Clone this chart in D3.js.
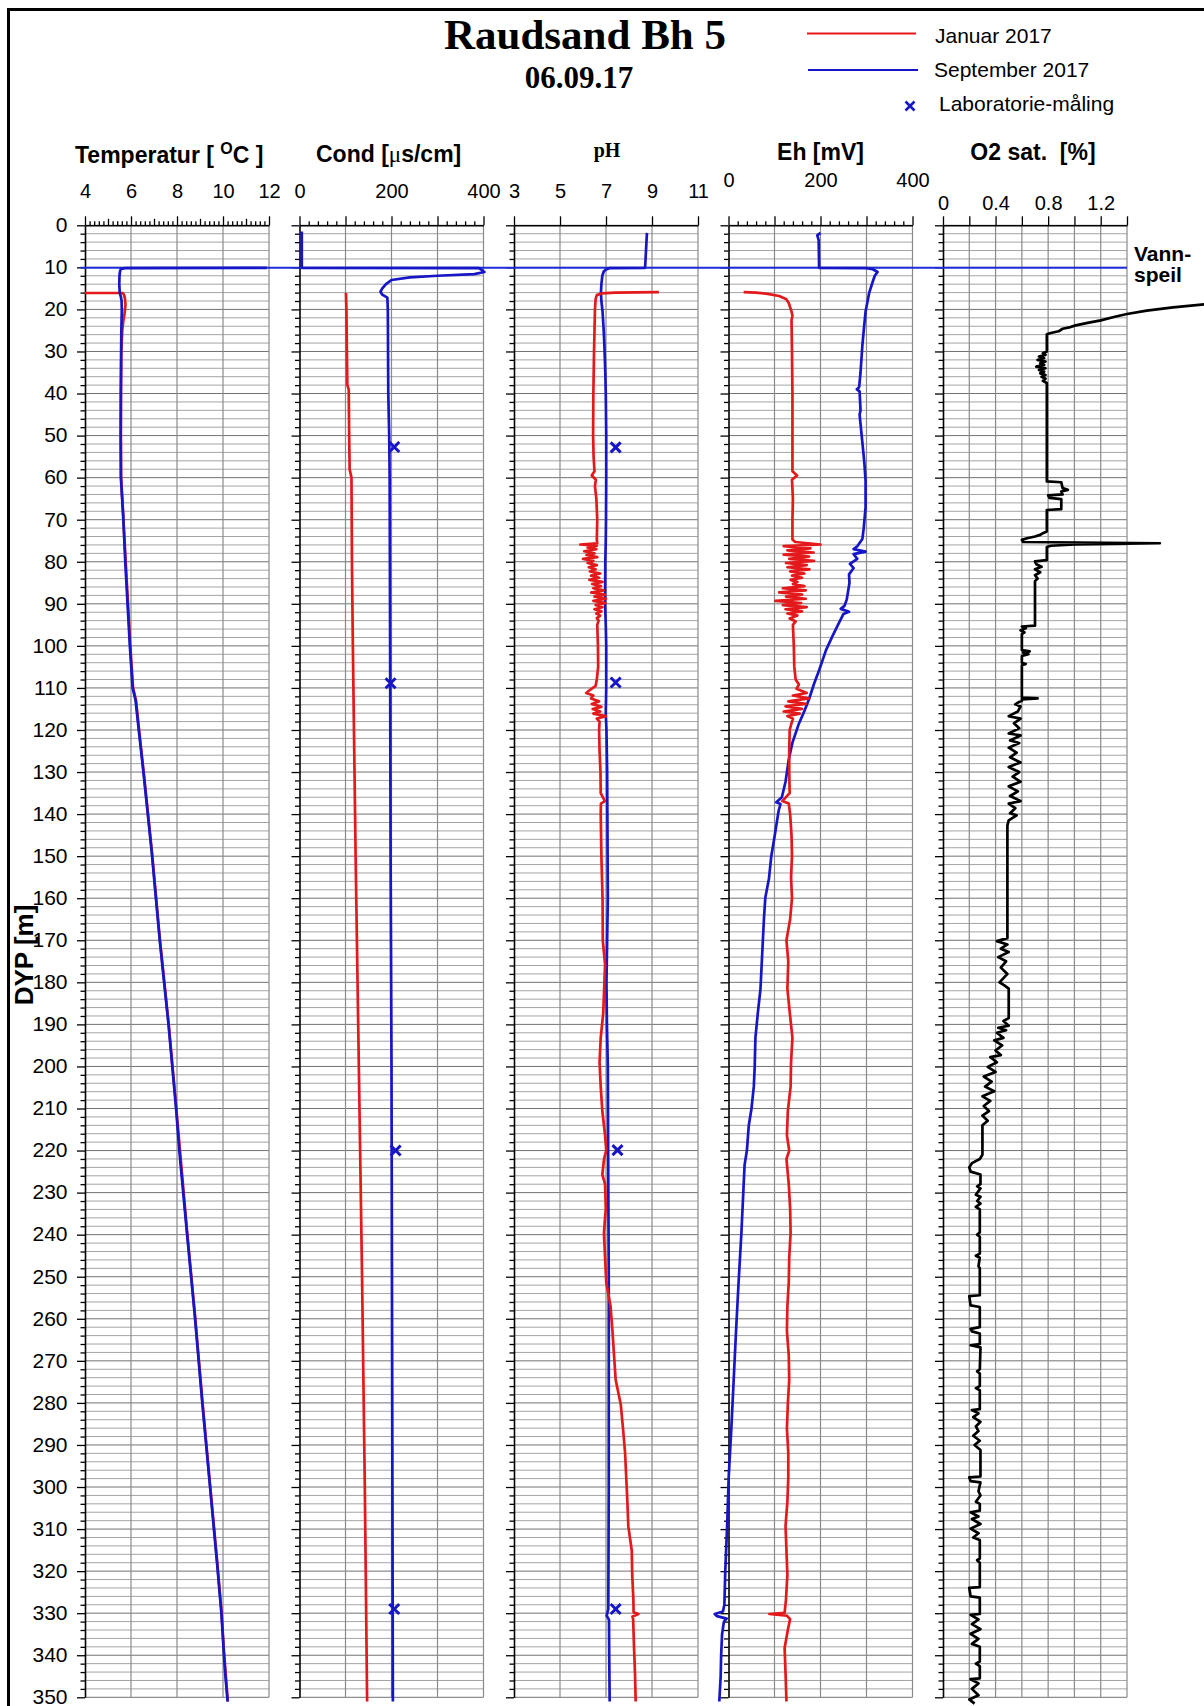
<!DOCTYPE html>
<html>
<head>
<meta charset="utf-8">
<script src="https://cdn.jsdelivr.net/npm/d3@7"></script>
<style>
  body { margin: 0; background: #fff; }
  svg { display: block; }
</style>
</head>
<body>
<svg id="chart" width="1204" height="1706"></svg>
<script>
// ---------- Borehole log data: [depth (m), value] ----------
const waterLevel = 10.1;

const tempJan = [
  [16.1, 4.0], [16.1, 5.64], [16.6, 5.70], [17.5, 5.74], [19, 5.76], [21, 5.72], [23, 5.66],
  [25, 5.62], [30, 5.58], [40, 5.56], [50, 5.56], [60, 5.57], [70, 5.67], [80, 5.77],
  [90, 5.87], [100, 5.97], [110, 6.09], [113, 6.22], [120, 6.35], [131, 6.57], [149, 6.91],
  [170, 7.26], [190, 7.64], [210, 7.97], [240, 8.45], [259, 8.78], [280, 9.11], [299, 9.43],
  [318, 9.75], [330, 9.94], [339, 10.04], [351, 10.21]
];
const tempSep = [
  [10.12, 11.9], [10.18, 5.75], [10.4, 5.56], [11, 5.52], [12, 5.50], [14, 5.49], [16, 5.51],
  [17, 5.56], [18, 5.59], [20, 5.60], [25, 5.58], [30, 5.57], [40, 5.56], [50, 5.55],
  [60, 5.56], [69, 5.66], [80, 5.75], [90, 5.85], [100, 5.95], [110, 6.07], [113, 6.20],
  [119.6, 6.33], [131, 6.56], [149, 6.90], [170, 7.25], [190, 7.63], [210, 7.96], [220, 8.10],
  [240, 8.44], [259, 8.77], [280, 9.10], [299, 9.42], [318, 9.74], [330, 9.93], [339, 10.03],
  [344.6, 10.10], [351, 10.20]
];

const condJan = [
  [16.1, 101], [20, 102], [30, 103], [38, 104], [39, 107], [50, 108], [58, 109], [60, 113],
  [80, 114], [100, 116], [150, 122], [200, 129], [250, 136], [300, 142], [351, 147]
];
const condSep = [
  [1.5, 5], [10.1, 5], [10.2, 390], [10.6, 396], [11.1, 402], [11.6, 380], [12.0, 300],
  [12.4, 240], [13.0, 200], [14.0, 188], [15.0, 180], [15.8, 176], [16.5, 180], [17.2, 191],
  [20, 192], [40, 193], [50, 195], [60, 196], [100, 197], [150, 198], [200, 200], [250, 201],
  [300, 202], [351, 203]
];
const condLab = [[52.7, 206], [108.9, 198], [220.0, 209], [329.0, 206]];

const phJan = [
  [15.9, 9.3], [16.0, 7.4], [16.2, 6.8], [16.6, 6.6], [17.5, 6.55], [20, 6.52], [25, 6.50],
  [30, 6.48], [40, 6.45], [50, 6.44], [55, 6.46], [58.5, 6.50], [59.5, 6.38], [60.5, 6.56],
  [62, 6.52], [65, 6.58], [70, 6.62], [74.7, 6.60], [75.6, 6.62], [75.9, 5.88], [76.2, 6.60],
  [76.6, 6.20], [77.0, 6.58], [77.5, 6.05], [78.0, 6.50], [78.4, 6.15], [78.9, 6.62],
  [79.3, 6.00], [79.8, 6.45], [80.3, 6.20], [80.8, 6.60], [81.3, 6.25], [81.8, 6.55],
  [82.3, 6.30], [82.8, 6.75], [83.3, 6.35], [83.8, 6.70], [84.3, 6.28], [84.8, 6.85],
  [85.3, 6.40], [85.8, 6.78], [86.3, 6.45], [86.8, 6.90], [87.3, 6.35], [87.8, 6.95],
  [88.3, 6.50], [88.8, 7.00], [89.3, 6.45], [89.8, 6.98], [90.3, 6.55], [90.8, 6.85],
  [91.3, 6.50], [91.8, 6.80], [92.3, 6.58], [92.8, 6.75], [93.4, 6.60], [94.0, 6.68],
  [95, 6.62], [100, 6.65], [105, 6.66], [108, 6.60], [109.5, 6.55], [110.5, 6.30],
  [111.2, 6.14], [111.8, 6.45], [112.5, 6.35], [113.2, 6.70], [113.8, 6.38], [114.5, 6.80],
  [115.0, 6.42], [115.6, 6.75], [116.1, 6.45], [116.7, 6.99], [117.3, 6.60], [118, 6.72],
  [120, 6.70], [125, 6.72], [130, 6.76], [135, 6.77], [136.9, 6.95], [137.5, 6.78],
  [140, 6.77], [150, 6.80], [160, 6.85], [170, 6.86], [175.8, 6.96], [181.5, 6.92],
  [187.3, 6.88], [193.2, 6.77], [199.0, 6.72], [204.8, 6.77], [210.6, 6.84], [216.4, 6.96],
  [219.9, 7.01], [222.2, 6.91], [225.7, 6.84], [228.0, 6.96], [233.8, 6.99], [239.6, 6.91],
  [245.5, 6.96], [251.3, 7.01], [257.1, 7.20], [262.9, 7.28], [268.7, 7.35], [274.5, 7.42],
  [280.3, 7.64], [286.1, 7.74], [291.9, 7.83], [297.7, 7.88], [303.5, 7.93], [309.3, 7.97],
  [315.1, 8.12], [320.9, 8.14], [326.7, 8.19], [329.8, 8.20], [330.2, 8.41], [330.8, 8.15],
  [331.4, 8.18], [338.3, 8.22], [344.2, 8.26], [351, 8.29]
];
const phSep = [
  [1.8, 8.78], [10.1, 8.70], [10.2, 7.15], [10.5, 7.00], [11, 6.90], [12, 6.84], [14, 6.80],
  [16, 6.78], [18, 6.80], [20.5, 6.85], [25, 6.90], [28.6, 6.93], [35, 6.97], [40, 6.99],
  [50, 7.01], [60, 7.01], [70, 7.00], [75, 6.99], [80, 6.97], [90, 6.96], [95, 6.99],
  [100, 7.01], [110, 7.01], [116, 6.99], [120, 7.02], [130, 7.05], [140, 7.06], [160, 7.08],
  [170, 7.05], [180, 7.02], [190, 7.04], [200, 7.08], [228, 7.10], [250, 7.12], [280, 7.12],
  [300, 7.12], [329, 7.10], [330.6, 7.03], [331.6, 7.13], [340, 7.14], [351, 7.16]
];
const phLab = [[52.8, 7.42], [108.7, 7.42], [219.9, 7.50], [329.0, 7.42]];

const ehJan = [
  [15.9, 33], [16.0, 60], [16.3, 85], [16.8, 110], [17.5, 125], [18.5, 131], [20.5, 137],
  [21.5, 139], [22.5, 137], [30, 138], [40, 139], [50, 139], [58.5, 139], [59.5, 149],
  [60.5, 138], [65, 140], [70, 139], [74.7, 139], [75.3, 145], [75.9, 200], [76.3, 120],
  [76.8, 178], [77.3, 128], [77.8, 185], [78.3, 120], [78.8, 175], [79.3, 132], [79.8, 186],
  [80.3, 125], [80.8, 170], [81.3, 128], [81.8, 176], [82.3, 134], [82.8, 165], [83.3, 138],
  [83.8, 160], [84.3, 135], [84.8, 150], [85.3, 140], [85.8, 165], [86.3, 118], [86.8, 168],
  [87.3, 110], [87.8, 160], [88.3, 125], [88.8, 168], [89.3, 102], [89.8, 158], [90.3, 118],
  [90.8, 170], [91.3, 124], [91.8, 160], [92.3, 128], [92.8, 150], [93.5, 133], [94.2, 146],
  [95, 140], [100, 142], [105, 143], [108, 146], [109.2, 153], [110.2, 148], [111.2, 170],
  [111.8, 140], [112.5, 175], [113.2, 130], [113.8, 168], [114.4, 124], [115, 160],
  [115.6, 120], [116.1, 155], [116.7, 128], [117.3, 140], [118.4, 137], [120, 133],
  [125, 132], [130, 132], [135, 133], [136.9, 117], [137.5, 131], [140, 134], [145, 137],
  [150, 138], [155, 136], [160, 138], [165, 134], [170, 126], [175, 130], [181.5, 128],
  [187, 133], [193.2, 139], [199, 136], [204.8, 135], [210.6, 129], [216.4, 127], [220, 132],
  [222, 126], [228, 131], [233.8, 134], [239.6, 135], [245.5, 132], [251.3, 131],
  [257.1, 128], [262.9, 127], [268.7, 131], [274.5, 132], [280.3, 129], [286.1, 127],
  [291.9, 130], [297.7, 130], [303.5, 128], [309.3, 124], [315.1, 126], [320.9, 128],
  [326.7, 125], [329.9, 122], [330.2, 89], [330.6, 127], [331.4, 134], [334, 129],
  [338.3, 122], [344.2, 124], [351, 126]
];
const ehSep = [
  [1.8, 200], [2.4, 193], [3.5, 196], [10.1, 197], [10.2, 300], [10.4, 313], [11.1, 324],
  [12, 318], [13.6, 313], [16, 306], [20.5, 298], [25, 294], [28.6, 291], [35, 287],
  [38.5, 284], [39.0, 279], [39.5, 285], [44, 287], [45, 285], [51.6, 291], [56, 295],
  [60.8, 298], [67, 298], [72, 294], [74.6, 291], [76.3, 280], [77.0, 272], [77.6, 298],
  [78.2, 272], [79.3, 280], [80.5, 264], [81.5, 272], [83, 262], [85, 263], [87, 260],
  [89, 257], [90.5, 252], [91.2, 244], [91.9, 262], [92.4, 250], [95, 238], [97.7, 226],
  [101, 212], [105.8, 197], [109, 186], [112.7, 175], [115.5, 165], [118.5, 153], [123, 139],
  [127, 131], [132.3, 124], [136, 116], [137.2, 104], [137.6, 113], [139.2, 109],
  [146.1, 99], [150, 93], [155.3, 88], [159.9, 80], [165, 77], [173.8, 73], [181.6, 69.5],
  [187, 64], [193.2, 58.5], [200, 57], [204.8, 55], [210, 50], [214.1, 44], [220, 40],
  [223.4, 35], [228, 33], [239.7, 28], [251.2, 22], [262.9, 16.4], [274.5, 11.3], [286, 6.2],
  [297.7, 0.4], [309.3, -3], [320, -7], [328, -9], [329.6, -12], [330.2, -30], [330.7, -25],
  [331.3, -4], [332, -10], [335, -14], [340, -16], [345, -17], [351, -20]
];

const o2Sep = [
  [18.6, 2.05], [19.5, 1.75], [20.3, 1.55], [21.1, 1.40], [21.8, 1.30], [22.6, 1.20],
  [23.2, 1.10], [23.8, 1.01], [24.2, 0.97], [24.6, 0.91], [25.2, 0.88], [25.6, 0.82],
  [25.9, 0.79], [30.0, 0.79], [30.4, 0.76], [30.8, 0.78], [31.2, 0.73], [31.6, 0.77],
  [32.0, 0.72], [32.4, 0.78], [32.8, 0.74], [33.2, 0.77], [33.6, 0.71], [34.0, 0.78],
  [34.4, 0.73], [34.8, 0.77], [35.2, 0.74], [35.6, 0.78], [36.0, 0.75], [36.5, 0.78],
  [37.0, 0.76], [37.5, 0.79], [60.9, 0.79], [61.1, 0.90], [62.5, 0.91], [62.9, 0.95],
  [63.3, 0.90], [64.0, 0.91], [64.2, 0.80], [64.8, 0.81], [65.1, 0.90], [67.5, 0.90],
  [67.7, 0.79], [72.8, 0.79], [73.2, 0.76], [73.6, 0.74], [74.0, 0.70], [74.4, 0.64],
  [74.8, 0.60], [75.3, 0.61], [75.6, 1.65], [75.9, 1.00], [76.2, 0.82], [76.5, 0.79],
  [79.6, 0.79], [79.9, 0.70], [80.6, 0.71], [81.2, 0.75], [81.8, 0.70], [82.5, 0.74],
  [83.2, 0.70], [84.0, 0.72], [84.6, 0.70], [95.2, 0.70], [95.4, 0.60], [95.8, 0.63],
  [96.3, 0.59], [96.8, 0.62], [97.2, 0.60], [101.0, 0.60], [101.3, 0.66], [101.6, 0.61],
  [102.0, 0.65], [102.4, 0.60], [104.0, 0.60], [104.3, 0.63], [104.6, 0.60], [112.3, 0.60],
  [112.5, 0.72], [112.7, 0.60], [113.1, 0.60], [113.3, 0.58], [113.9, 0.55], [114.4, 0.59],
  [115.6, 0.57], [116.7, 0.50], [117.3, 0.59], [118.4, 0.54], [119.6, 0.58], [120.8, 0.50],
  [121.3, 0.59], [122.5, 0.51], [123.1, 0.58], [124.2, 0.50], [125.4, 0.56], [126.5, 0.51],
  [127.7, 0.59], [128.8, 0.50], [130.0, 0.58], [131.1, 0.53], [132.3, 0.59], [133.4, 0.50],
  [134.6, 0.57], [135.7, 0.51], [136.9, 0.59], [137.5, 0.50], [138.6, 0.55], [139.8, 0.51],
  [140.3, 0.56], [141.5, 0.50], [142.7, 0.49], [169.5, 0.49], [170.2, 0.41], [171.0, 0.49],
  [172.0, 0.44], [172.8, 0.50], [174.0, 0.42], [175.0, 0.48], [176.5, 0.44], [178.0, 0.49],
  [180.0, 0.43], [180.8, 0.47], [181.5, 0.50], [188.5, 0.50], [189.2, 0.46], [190.3, 0.50],
  [190.8, 0.42], [191.4, 0.48], [192.0, 0.41], [193.2, 0.46], [193.8, 0.39], [195.0, 0.45],
  [196.2, 0.40], [197.3, 0.44], [197.8, 0.36], [199.0, 0.41], [200.1, 0.34], [201.3, 0.40],
  [202.4, 0.31], [203.6, 0.37], [204.8, 0.32], [205.9, 0.39], [207.1, 0.30], [208.2, 0.36],
  [209.4, 0.31], [210.6, 0.35], [211.7, 0.30], [212.9, 0.34], [214.0, 0.30], [221.0, 0.30],
  [222.0, 0.28], [223.0, 0.22], [224.0, 0.20], [225.0, 0.21], [225.7, 0.285], [228.0, 0.285],
  [228.5, 0.26], [229.0, 0.285], [230.5, 0.25], [231.0, 0.285], [232.0, 0.26], [232.6, 0.285],
  [233.4, 0.25], [234.0, 0.28], [239.5, 0.28], [240.0, 0.26], [240.5, 0.28], [244.5, 0.28],
  [245.0, 0.25], [245.5, 0.28], [247.5, 0.27], [248.0, 0.28], [254.4, 0.28], [254.6, 0.20],
  [256.8, 0.21], [257.2, 0.28], [262.0, 0.28], [262.4, 0.21], [263.0, 0.22], [263.5, 0.28],
  [266.0, 0.28], [266.3, 0.21], [266.8, 0.285], [272.0, 0.28], [272.5, 0.26], [273.0, 0.28],
  [276.0, 0.28], [276.5, 0.25], [277.0, 0.28], [281.5, 0.28], [281.7, 0.22], [282.5, 0.27],
  [283.4, 0.23], [284.5, 0.285], [285.6, 0.25], [286.7, 0.27], [287.8, 0.23], [289.0, 0.28],
  [290.0, 0.24], [291.2, 0.285], [297.5, 0.285], [297.7, 0.20], [298.6, 0.21], [298.9, 0.285],
  [301.0, 0.27], [302.0, 0.285], [303.5, 0.25], [304.0, 0.28], [305.6, 0.28], [306.0, 0.21],
  [307.0, 0.27], [307.6, 0.22], [308.8, 0.285], [309.9, 0.21], [311.0, 0.27], [312.0, 0.23],
  [312.6, 0.28], [317.0, 0.28], [317.4, 0.26], [318.0, 0.28], [323.8, 0.28], [324.0, 0.20],
  [326.0, 0.21], [326.3, 0.28], [330.2, 0.28], [330.4, 0.21], [331.5, 0.27], [332.6, 0.22],
  [333.8, 0.285], [334.9, 0.21], [336.1, 0.27], [337.3, 0.22], [338.0, 0.28], [341.5, 0.28],
  [342.0, 0.25], [342.6, 0.28], [345.5, 0.28], [345.7, 0.21], [346.7, 0.27], [348.0, 0.22],
  [349.5, 0.27], [350.5, 0.20], [351.5, 0.24]
];

// ---------- Axis ticks and labels ----------
const depthMajor = d3.range(0, 351, 10);
const depthMinor = d3.range(0, 351, 2);
const tempTicks = [4, 6, 8, 10, 12];
const condTicks = [0, 100, 200, 300, 400];
const condLabels = [0, 200, 400];
const phTicks = [3, 5, 7, 9, 11];
const ehTicks = [0, 100, 200, 300, 400];
const ehLabels = [0, 200, 400];
const o2Ticks = [0, 0.2, 0.4, 0.6, 0.8, 1.0, 1.2, 1.4];
const o2Labels = [0, 0.4, 0.8, 1.2];

const RED = "#e3191b";
const BLUE = "#1616c8";
const SANS = "'Liberation Sans', Arial, sans-serif";
const SERIF = "'Liberation Serif', 'Times New Roman', serif";

const svg = d3.select("#chart");
const y = d3.scaleLinear().domain([0, 350]).range([225.3, 1697.3]);

const panelW = 184, panelStep = 214.5, panelX0 = 85;
const panels = [
  { domain: [4, 12], grid: tempTicks, labels: tempTicks, minor: d3.range(4.2, 12, 0.2), mid: [5, 7, 9, 11], labelBase: 198,
    series: [{ data: tempJan, color: RED }, { data: tempSep, color: BLUE }] },
  { domain: [0, 400], grid: condTicks, labels: condLabels, minor: d3.range(20, 400, 20), mid: [], labelBase: 198,
    series: [{ data: condJan, color: RED }, { data: condSep, color: BLUE }], lab: condLab },
  { domain: [3, 11], grid: phTicks, labels: phTicks, minor: [], mid: [], labelBase: 198,
    series: [{ data: phSep, color: BLUE }, { data: phJan, color: RED }], lab: phLab },
  { domain: [0, 400], grid: ehTicks, labels: ehLabels, minor: d3.range(20, 400, 20), mid: [], labelBase: 186.5,
    series: [{ data: ehSep, color: BLUE }, { data: ehJan, color: RED }] },
  { domain: [0, 1.4], grid: o2Ticks, labels: o2Labels, minor: [], mid: [], labelBase: 210,
    series: [{ data: o2Sep, color: "#000" }] }
];

// ---------- Frame ----------
svg.append("path")
  .attr("d", "M8.5,1706 V9.5 H1204")
  .attr("fill", "none").attr("stroke", "#000").attr("stroke-width", 3);

// ---------- Panels ----------
panels.forEach((p, i) => {
  const x0 = panelX0 + i * panelStep;
  p.x = d3.scaleLinear().domain(p.domain).range([x0, x0 + panelW]);
  const x = p.x;
  const g = svg.append("g");

  // horizontal grid every 2 m
  g.selectAll("line.h").data(depthMinor).join("line")
    .attr("x1", x0).attr("x2", x0 + panelW)
    .attr("y1", d => y(d)).attr("y2", d => y(d))
    .attr("stroke", d => d % 10 === 0 ? "#727272" : "#a4a4a4")
    .attr("stroke-width", 1);

  // vertical grid at major ticks
  g.selectAll("line.v").data(p.grid.slice(1)).join("line")
    .attr("x1", d => x(d)).attr("x2", d => x(d))
    .attr("y1", y(0)).attr("y2", y(350))
    .attr("stroke", "#8a8a8a").attr("stroke-width", 1.2);

  // top axis: major, mid and minor ticks
  const top = g.append("g").attr("transform", `translate(0,${y(0)})`);
  top.call(d3.axisTop(x).tickValues(p.grid).tickSize(9).tickSizeOuter(0).tickFormat(""));
  if (p.minor.length) {
    const minorOnly = p.minor.filter(v => !p.grid.some(t => Math.abs(t - v) < 1e-6) && !p.mid.some(t => Math.abs(t - v) < 1e-6));
    const gm = g.append("g").attr("transform", `translate(0,${y(0)})`)
      .call(d3.axisTop(x).tickValues(minorOnly).tickSize(4).tickSizeOuter(0).tickFormat(""));
    gm.select(".domain").remove();
  }
  if (p.mid.length) {
    const gmid = g.append("g").attr("transform", `translate(0,${y(0)})`)
      .call(d3.axisTop(x).tickValues(p.mid).tickSize(6.5).tickSizeOuter(0).tickFormat(""));
    gmid.select(".domain").remove();
  }

  // top tick labels
  const gl = g.append("g").attr("transform", `translate(0,${y(0)})`)
    .call(d3.axisTop(x).tickValues(p.labels).tickSize(0).tickPadding(y(0) - p.labelBase)
      .tickFormat(d => d3.format("~g")(d)));
  gl.select(".domain").remove();
  gl.selectAll("text").attr("font-family", SANS).attr("font-size", 20).attr("fill", "#000");

  // left depth axis
  const left = g.append("g").attr("transform", `translate(${x0},0)`)
    .call(d3.axisLeft(y).tickValues(depthMajor).tickSize(8).tickSizeOuter(0).tickPadding(9.5)
      .tickFormat(i === 0 ? d3.format("d") : ""));
  left.selectAll("text").attr("font-family", SANS).attr("font-size", 21).attr("fill", "#000")
    .attr("dy", "0.3em");
  const leftMinor = g.append("g").attr("transform", `translate(${x0},0)`)
    .call(d3.axisLeft(y).tickValues(depthMinor.filter(d => d % 10 !== 0)).tickSize(4.5).tickSizeOuter(0).tickFormat(""));
  leftMinor.select(".domain").remove();

  g.selectAll(".domain").attr("stroke", "#000").attr("stroke-width", 1.6);
  g.selectAll(".tick line").attr("stroke", "#000").attr("stroke-width", 1.3);
});

// ---------- Water level ----------
svg.append("line")
  .attr("x1", 80.5).attr("x2", panels[4].x.range()[1])
  .attr("y1", y(waterLevel)).attr("y2", y(waterLevel))
  .attr("stroke", "#1d2ed8").attr("stroke-width", 2);

// ---------- Profiles ----------
panels.forEach(p => {
  const line = d3.line().x(d => p.x(d[1])).y(d => y(d[0]));
  p.series.forEach(s => {
    svg.append("path").datum(s.data)
      .attr("d", line)
      .attr("fill", "none").attr("stroke", s.color)
      .attr("stroke-width", 2.7).attr("stroke-linejoin", "round");
  });
  if (p.lab) {
    svg.append("g").selectAll("path").data(p.lab).join("path")
      .attr("d", d => {
        const cx = p.x(d[1]), cy = y(d[0]), r = 5;
        return `M${cx - r},${cy - r}L${cx + r},${cy + r}M${cx - r},${cy + r}L${cx + r},${cy - r}`;
      })
      .attr("stroke", BLUE).attr("stroke-width", 3).attr("fill", "none");
  }
});

// ---------- Titles ----------
svg.append("text").attr("x", 585).attr("y", 49)
  .attr("text-anchor", "middle").attr("font-family", SERIF).attr("font-weight", "bold")
  .attr("font-size", 43).text("Raudsand Bh 5");
svg.append("text").attr("x", 579).attr("y", 88)
  .attr("text-anchor", "middle").attr("font-family", SERIF).attr("font-weight", "bold")
  .attr("font-size", 31).text("06.09.17");

// panel headings
const tempTitle = svg.append("text").attr("x", 75).attr("y", 163)
  .attr("font-family", SANS).attr("font-weight", "bold").attr("font-size", 23)
  .style("white-space", "pre");
tempTitle.append("tspan").text("Temperatur [ ");
tempTitle.append("tspan").attr("font-size", 16).attr("dy", -9).text("O");
tempTitle.append("tspan").attr("dy", 9).text("C ]");

const condTitle = svg.append("text").attr("x", 316).attr("y", 162)
  .attr("font-family", SANS).attr("font-weight", "bold").attr("font-size", 23);
condTitle.append("tspan").text("Cond [");
condTitle.append("tspan").attr("font-family", SERIF).attr("font-weight", "normal").text("\u03bc");
condTitle.append("tspan").text("s/cm]");

svg.append("text").attr("x", panels[2].x(7) + 1).attr("y", 157)
  .attr("text-anchor", "middle").attr("font-family", SERIF).attr("font-weight", "bold")
  .attr("font-size", 20).text("pH");
svg.append("text").attr("x", panels[3].x(200)).attr("y", 159.5)
  .attr("text-anchor", "middle").attr("font-family", SANS).attr("font-weight", "bold")
  .attr("font-size", 23).text("Eh [mV]");
svg.append("text").attr("x", 1033).attr("y", 160)
  .attr("text-anchor", "middle").attr("font-family", SANS).attr("font-weight", "bold")
  .attr("font-size", 23).style("white-space", "pre").text("O2 sat.  [%]");

// depth axis label
svg.append("text").attr("transform", "translate(33,955) rotate(-90)")
  .attr("text-anchor", "middle").attr("font-family", SANS).attr("font-weight", "bold")
  .attr("font-size", 26).text("DYP [m]");

// water level note
const vs = svg.append("text").attr("font-family", SANS).attr("font-weight", "bold").attr("font-size", 21);
vs.append("tspan").attr("x", 1134).attr("y", 261).text("Vann-");
vs.append("tspan").attr("x", 1134).attr("y", 282).text("speil");

// ---------- Legend ----------
const legend = svg.append("g").attr("font-family", SANS).attr("font-size", 21);
legend.append("line").attr("x1", 807).attr("x2", 916).attr("y1", 33.5).attr("y2", 33.5)
  .attr("stroke", RED).attr("stroke-width", 2);
legend.append("text").attr("x", 935).attr("y", 42.5).text("Januar 2017");
legend.append("line").attr("x1", 808).attr("x2", 918).attr("y1", 70).attr("y2", 70)
  .attr("stroke", BLUE).attr("stroke-width", 2);
legend.append("text").attr("x", 934).attr("y", 76.5).text("September 2017");
legend.append("path")
  .attr("d", "M905.5,101.5L914.5,110.5M905.5,110.5L914.5,101.5")
  .attr("stroke", BLUE).attr("stroke-width", 2.6);
legend.append("text").attr("x", 939).attr("y", 111).text("Laboratorie-m\u00e5ling");
</script>
</body>
</html>
